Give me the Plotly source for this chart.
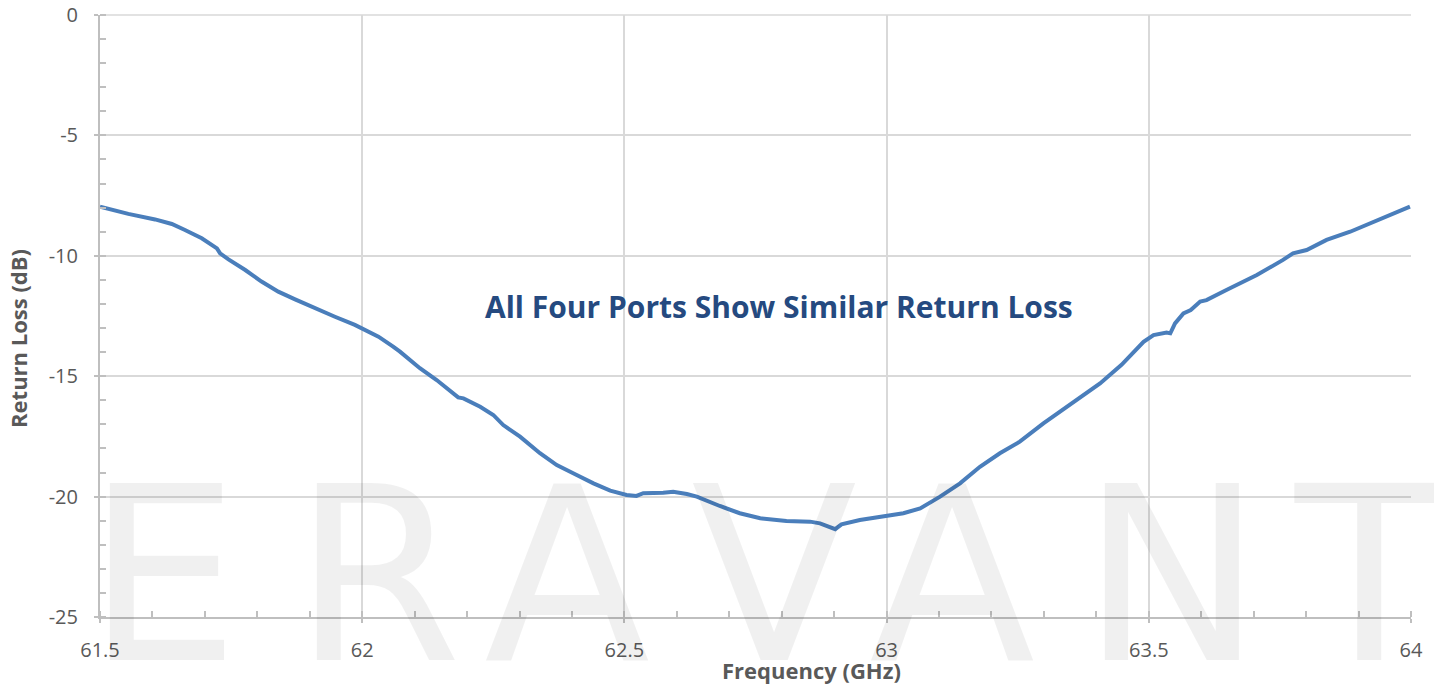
import plotly.graph_objects as go

freq_ghz = [61.500, 61.554, 61.605, 61.637, 61.662, 61.694, 61.723, 61.729, 61.745, 61.777,
            61.808, 61.840, 61.872, 61.910, 61.948, 61.986, 62.005, 62.031, 62.059, 62.072,
            62.110, 62.142, 62.183, 62.193, 62.225, 62.250, 62.269, 62.301, 62.339, 62.371,
            62.409, 62.441, 62.473, 62.504, 62.523, 62.536, 62.574, 62.593, 62.619, 62.638,
            62.682, 62.720, 62.759, 62.809, 62.854, 62.873, 62.902, 62.914, 62.949, 63.000,
            63.032, 63.064, 63.102, 63.140, 63.178, 63.216, 63.254, 63.299, 63.331, 63.369,
            63.407, 63.448, 63.470, 63.490, 63.509, 63.534, 63.541, 63.550, 63.566, 63.580,
            63.598, 63.610, 63.648, 63.693, 63.706, 63.756, 63.775, 63.801, 63.839, 63.884,
            63.947, 63.998]
return_loss_db = [-7.96, -8.26, -8.49, -8.68, -8.93, -9.27, -9.69, -9.90, -10.15, -10.59,
                  -11.07, -11.49, -11.81, -12.18, -12.53, -12.87, -13.08, -13.36, -13.77, -13.98,
                  -14.67, -15.16, -15.88, -15.92, -16.27, -16.61, -17.03, -17.51, -18.20, -18.69,
                  -19.10, -19.45, -19.75, -19.93, -19.97, -19.86, -19.84, -19.80, -19.89, -20.00,
                  -20.39, -20.69, -20.90, -21.01, -21.04, -21.11, -21.35, -21.15, -20.97, -20.81,
                  -20.69, -20.49, -20.00, -19.45, -18.76, -18.20, -17.72, -16.96, -16.47, -15.92,
                  -15.30, -14.53, -14.05, -13.57, -13.29, -13.19, -13.22, -12.81, -12.39, -12.25,
                  -11.90, -11.84, -11.42, -10.93, -10.80, -10.17, -9.90, -9.76, -9.34, -9.00,
                  -8.44, -7.96]

x_ticks = [61.5, 62, 62.5, 63, 63.5, 64]
x_tick_labels = ["61.5", "62", "62.5", "63", "63.5", "64"]
y_ticks = [0, -5, -10, -15, -20, -25]
y_tick_labels = ["0", "-5", "-10", "-15", "-20", "-25"]

watermark_letters = ["E", "R", "A", "V", "A", "N", "T"]
watermark_x = [0.048, 0.212, 0.356, 0.514, 0.650, 0.818, 0.968]

grey_text = "#595959"
grid_col = "#d9d9d9"
axis_col = "#bfbfbf"

fig = go.Figure()
fig.add_trace(go.Scatter(
    x=freq_ghz,
    y=return_loss_db,
    mode="lines",
    line=dict(color="#4a7ebb", width=4),
    showlegend=False))

annotations = []
for letter, xp in zip(watermark_letters, watermark_x):
    annotations.append(dict(
        text=letter, x=xp, y=0.069, xref="paper", yref="paper",
        xanchor="center", yanchor="middle", showarrow=False,
        font=dict(family="DejaVu Sans", size=243, color="rgba(0,0,0,0.06)")))

annotations.append(dict(
    text="<b>All Four Ports Show Similar Return Loss</b>",
    x=0.518, y=0.515, xref="paper", yref="paper",
    xanchor="center", yanchor="middle", showarrow=False,
    font=dict(family="Open Sans", size=30, color="#254a80")))
annotations.append(dict(
    text="<b>Frequency (GHz)</b>",
    x=0.543, y=-0.088, xref="paper", yref="paper",
    xanchor="center", yanchor="middle", showarrow=False,
    font=dict(family="Open Sans", size=22, color=grey_text)))
annotations.append(dict(
    text="<b>Return Loss (dB)</b>",
    x=-0.0625, y=0.462, xref="paper", yref="paper", textangle=-90,
    xanchor="center", yanchor="middle", showarrow=False,
    font=dict(family="Open Sans", size=22, color=grey_text)))

# top gridline at 0 dB (plotly drops the gridline on the range edge)
fig.add_shape(type="line", xref="paper", yref="paper", x0=0, x1=1, y0=1, y1=1,
              line=dict(color=grid_col, width=1.5), layer="below")

# the page body adds 8px, so the figure is 8px smaller each way
fig.update_layout(
    width=1434,
    height=678,
    margin={'l': 92, 'b': 69, 't': 7, 'r': 31},
    plot_bgcolor="white",
    paper_bgcolor="white",
    annotations=annotations,
    xaxis=dict(
        range=[61.5, 64],
        tickvals=x_ticks,
        ticktext=x_tick_labels,
        tickfont=dict(family="Open Sans", size=20, color=grey_text),
        ticks="outside", ticklen=4, tickcolor=axis_col, tickwidth=2,
        ticklabelstandoff=10, ticklabeloverflow="allow",
        showgrid=True, gridcolor=grid_col, gridwidth=1.5,
        showline=True, linecolor=axis_col, linewidth=2,
        zeroline=False, automargin=False,
        minor=dict(dtick=0.1, ticks="inside", ticklen=6, tickcolor=axis_col,
                   tickwidth=1.5, showgrid=False)
    ),
    yaxis=dict(
        range=[-25, 0],
        tickvals=y_ticks,
        ticktext=y_tick_labels,
        tickfont=dict(family="Open Sans", size=20, color=grey_text),
        ticks="outside", ticklen=4, tickcolor=axis_col, tickwidth=2,
        ticklabelstandoff=12, ticklabeloverflow="allow",
        showgrid=True, gridcolor=grid_col, gridwidth=1.5,
        showline=True, linecolor=axis_col, linewidth=2,
        zeroline=False, automargin=False,
        minor=dict(dtick=1, ticks="inside", ticklen=6, tickcolor=axis_col,
                   tickwidth=1.5, showgrid=False)
    ))

fig.write_html("out.html")
